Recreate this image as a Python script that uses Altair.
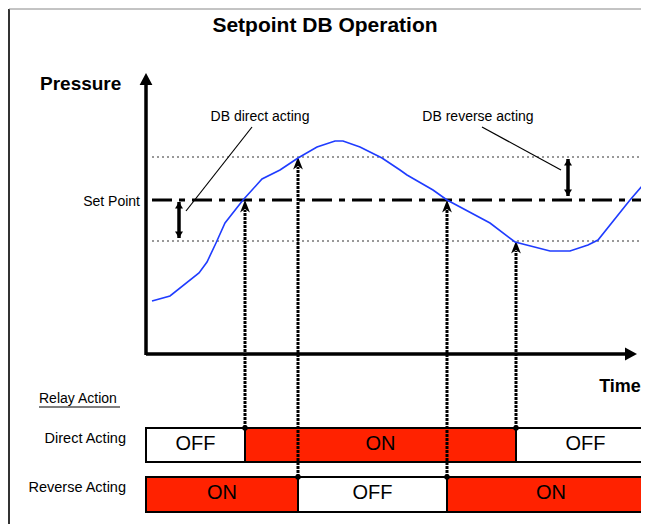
import altair as alt
import pandas as pd

# ---------------- data ----------------
# process curve: time vs pressure (diagram units, larger y = lower on page)
curve_time = [152, 170, 199, 207, 216, 225, 243, 262, 280, 298, 317, 335, 343, 360,
              382, 400, 407, 433, 447, 490, 515, 550, 570, 588, 598, 630, 643]
curve_pressure = [301, 296, 273, 262, 243, 223, 200, 179, 170, 158, 147, 141, 141, 147,
                  158, 170, 175, 190, 200, 223, 242, 251, 251, 245, 240, 200, 185]

# thresholds
set_point = 200
db_upper = 157
db_lower = 241
threshold_start, threshold_end = 152, 645

# switching events (time, pressure level reached, relay row that switches)
switch_time = [245, 298, 447, 516]
switch_level = [200, 157, 200, 241]
switch_row = ["Direct Acting", "Reverse Acting", "Reverse Acting", "Direct Acting"]

# relay states
relay_row = ["Direct Acting", "Direct Acting", "Direct Acting",
             "Reverse Acting", "Reverse Acting", "Reverse Acting"]
relay_start = [146, 245, 516, 146, 298, 447]
relay_end = [245, 516, 655, 298, 447, 655]
relay_state = ["OFF", "ON", "OFF", "ON", "OFF", "ON"]

# ---------------- layout ----------------
row_top = {"Direct Acting": 428, "Reverse Acting": 477}
row_bottom = {"Direct Acting": 462, "Reverse Acting": 512}
row_text = {"Direct Acting": 444, "Reverse Acting": 493}
axis_origin_x, axis_origin_y = 146, 354
axis_top_y, axis_right_x = 73, 637

FONT = "Liberation Sans"
RED = "#ff2200"
BLUE = "#1f3cff"

XS = alt.Scale(domain=[8, 641], nice=False, zero=False)
YS = alt.Scale(domain=[8, 524], nice=False, zero=False, reverse=True)


def X(f):
    return alt.X(f"{f}:Q", scale=XS, axis=None)


def Y(f):
    return alt.Y(f"{f}:Q", scale=YS, axis=None)


layers = []

# frame (left and top)
frame_left = pd.DataFrame({"x": [9], "y": [9], "y2": [524]})
layers.append(alt.Chart(frame_left).mark_rule(strokeWidth=2, color="#333333").encode(
    x=X("x"), y=Y("y"), y2="y2"))
frame_top = pd.DataFrame({"x": [9], "x2": [660], "y": [9]})
layers.append(alt.Chart(frame_top).mark_rule(strokeWidth=1, color="#888888").encode(
    x=X("x"), x2="x2", y=Y("y")))

# thresholds (dotted)
thr = pd.DataFrame({"x": [threshold_start] * 2, "x2": [threshold_end] * 2,
                    "y": [db_upper, db_lower]})
layers.append(alt.Chart(thr).mark_rule(strokeWidth=1, color="#333333",
                                        strokeDash=[2, 3]).encode(
    x=X("x"), x2="x2", y=Y("y")))

# set point dash-dot
sp = pd.DataFrame({"x": [threshold_start], "x2": [threshold_end], "y": [set_point]})
layers.append(alt.Chart(sp).mark_rule(strokeWidth=3, color="black",
                                       strokeDash=[20, 7, 6, 7]).encode(
    x=X("x"), x2="x2", y=Y("y")))

# relay bars
bars = pd.DataFrame({"row": relay_row, "start": relay_start, "end": relay_end,
                     "state": relay_state})
bars["top"] = bars["row"].map(row_top)
bars["bottom"] = bars["row"].map(row_bottom)
bars["ty"] = bars["row"].map(row_text)
bars["mid"] = (bars["start"] + bars["end"]) / 2
layers.append(alt.Chart(bars).mark_rect(stroke="black", strokeWidth=2, clip=True).encode(
    x=X("start"), x2="end", y=Y("top"), y2="bottom",
    color=alt.Color("state:N", scale=alt.Scale(domain=["ON", "OFF"], range=[RED, "white"]),
                    legend=None)))
layers.append(alt.Chart(bars).mark_text(font=FONT, fontSize=20, color="black").encode(
    x=X("mid"), y=Y("ty"), text="state:N"))

# vertical dotted switching arrows
sw = pd.DataFrame({"t": switch_time, "lvl": switch_level, "row": switch_row})
sw["base"] = sw["row"].map(row_top)
sw["tail"] = sw["lvl"] + 10
layers.append(alt.Chart(sw).mark_rule(strokeWidth=3, color="black",
                                       strokeDash=[3, 1]).encode(
    x=X("t"), y=Y("base"), y2="tail"))
layers.append(alt.Chart(sw).mark_point(
    shape="M0,0L0.7,1.8L0,1.3L-0.7,1.8Z", size=196, filled=True, opacity=1,
    color="black", strokeWidth=0).encode(x=X("t"), y=Y("lvl")))
layers.append(alt.Chart(sw).mark_circle(size=30, color="black", opacity=1).encode(
    x=X("t"), y=Y("base")))

# process curve
cv = pd.DataFrame({"t": curve_time, "p": curve_pressure, "i": range(len(curve_time))})
layers.append(alt.Chart(cv).mark_line(color=BLUE, strokeWidth=1.6).encode(
    x=X("t"), y=Y("p"), order="i:Q"))

# axes
ax = pd.DataFrame({"x": [axis_origin_x, axis_origin_x], "x2": [axis_origin_x, axis_right_x - 10],
                   "y": [axis_origin_y + 1, axis_origin_y], "y2": [axis_top_y + 10, axis_origin_y]})
layers.append(alt.Chart(ax).mark_rule(strokeWidth=3.5, color="black").encode(
    x=X("x"), x2="x2", y=Y("y"), y2="y2"))
up_head = pd.DataFrame({"x": [axis_origin_x], "y": [axis_top_y]})
layers.append(alt.Chart(up_head).mark_point(
    shape="M0,0L0.8,1.5L-0.8,1.5Z", size=256, filled=True, opacity=1,
    color="black", strokeWidth=0).encode(x=X("x"), y=Y("y")))
right_head = pd.DataFrame({"x": [axis_right_x], "y": [axis_origin_y]})
layers.append(alt.Chart(right_head).mark_point(
    shape="M0,0L-1.5,0.8L-1.5,-0.8Z", size=256, filled=True, opacity=1,
    color="black", strokeWidth=0).encode(x=X("x"), y=Y("y")))

# dead-band double arrows
db_x = [179, 568]
db_y1 = [set_point + 2, db_upper + 2]
db_y2 = [db_lower - 3, set_point - 4]
dba = pd.DataFrame({"x": db_x, "y1": db_y1, "y2": db_y2})
layers.append(alt.Chart(dba).mark_rule(strokeWidth=3.5, color="black").encode(
    x=X("x"), y=Y("y1"), y2="y2"))
layers.append(alt.Chart(dba).mark_point(
    shape="M0,0L1,1.6L-1,1.6Z", size=64, filled=True, opacity=1,
    color="black", strokeWidth=0).encode(x=X("x"), y=Y("y1")))
layers.append(alt.Chart(dba).mark_point(
    shape="M0,0L1,-1.6L-1,-1.6Z", size=64, filled=True, opacity=1,
    color="black", strokeWidth=0).encode(x=X("x"), y=Y("y2")))

# leader lines
lead = pd.DataFrame({"x": [186, 561], "x2": [252, 482], "y": [211, 170], "y2": [127, 127]})
layers.append(alt.Chart(lead).mark_rule(strokeWidth=1.2, color="black").encode(
    x=X("x"), x2="x2", y=Y("y"), y2="y2"))

# underline of "Relay Action"
ul = pd.DataFrame({"x": [39], "x2": [120], "y": [407]})
layers.append(alt.Chart(ul).mark_rule(strokeWidth=1.2, color="black").encode(
    x=X("x"), x2="x2", y=Y("y")))


def text_layer(labels, xs, ys, **kw):
    df = pd.DataFrame({"label": labels, "x": xs, "y": ys})
    return alt.Chart(df).mark_text(font=FONT, color="black", baseline="middle", **kw).encode(
        x=X("x"), y=Y("y"), text="label:N")


layers.append(text_layer(["Setpoint DB Operation"], [325], [26],
                         fontSize=21, fontWeight="bold", align="center"))
layers.append(text_layer(["Pressure"], [40], [84], fontSize=19, fontWeight="bold", align="left"))
layers.append(text_layer(["Time"], [620], [387], fontSize=18, fontWeight="bold", align="center"))
layers.append(text_layer(["DB direct acting", "DB reverse acting"], [260, 478], [117, 117],
                         fontSize=14, align="center"))
layers.append(text_layer(["Set Point"], [140], [202], fontSize=14, align="right"))
layers.append(text_layer(["Relay Action"], [39], [399], fontSize=14, align="left"))
layers.append(text_layer(["Direct Acting", "Reverse Acting"], [126, 126], [439, 488],
                         fontSize=14.5, align="right"))

chart = alt.layer(*layers).properties(
    width=633, height=516, padding=0,
    autosize=alt.AutoSizeParams(type="none"),
    background="white",
).configure_view(stroke=None)

chart.save("out.html", embed_options={"renderer": "svg", "actions": False})
